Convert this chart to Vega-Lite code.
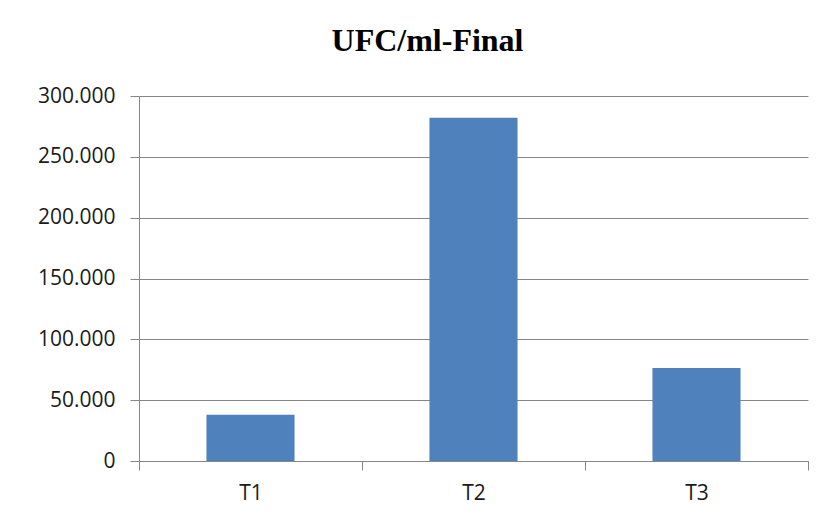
{
  "$schema": "https://vega.github.io/schema/vega-lite/v6.json",
  "autosize": "none",
  "width": 669,
  "height": 365,
  "padding": {"left": 139, "top": 96, "right": 19, "bottom": 64},
  "background": "white",
  "title": {
    "text": "UFC/ml-Final",
    "font": "Liberation Serif",
    "fontSize": 32,
    "fontWeight": "bold",
    "color": "black",
    "anchor": "middle",
    "dx": -46,
    "offset": 27
  },
  "data": {
    "values": [
      {"tratamiento": "T1", "ufc": 38100},
      {"tratamiento": "T2", "ufc": 282200},
      {"tratamiento": "T3", "ufc": 76400}
    ]
  },
  "mark": {"type": "bar", "color": "#4F81BD", "width": {"band": 0.395}},
  "encoding": {
    "x": {
      "field": "tratamiento",
      "type": "nominal",
      "sort": null,
      "scale": {"paddingInner": 0, "paddingOuter": 0},
      "axis": {
        "title": null,
        "labelAngle": 0,
        "tickBand": "extent",
        "domainColor": "#868686",
        "tickColor": "#868686",
        "tickSize": 9,
        "labelFont": "Open Sans",
        "labelFontSize": 21,
        "labelColor": "#1a1a1a",
        "labelPadding": 12
      }
    },
    "y": {
      "field": "ufc",
      "type": "quantitative",
      "scale": {"domain": [0, 300000], "nice": false},
      "axis": {
        "title": null,
        "values": [0, 50000, 100000, 150000, 200000, 250000, 300000],
        "labelExpr": "replace(format(datum.value, ','), ',', '.')",
        "gridColor": "#868686",
        "domainColor": "#868686",
        "tickColor": "#868686",
        "tickSize": 9,
        "labelFont": "Open Sans",
        "labelFontSize": 21,
        "labelColor": "#1a1a1a",
        "labelPadding": 15
      }
    }
  },
  "config": {"view": {"stroke": null}}
}
